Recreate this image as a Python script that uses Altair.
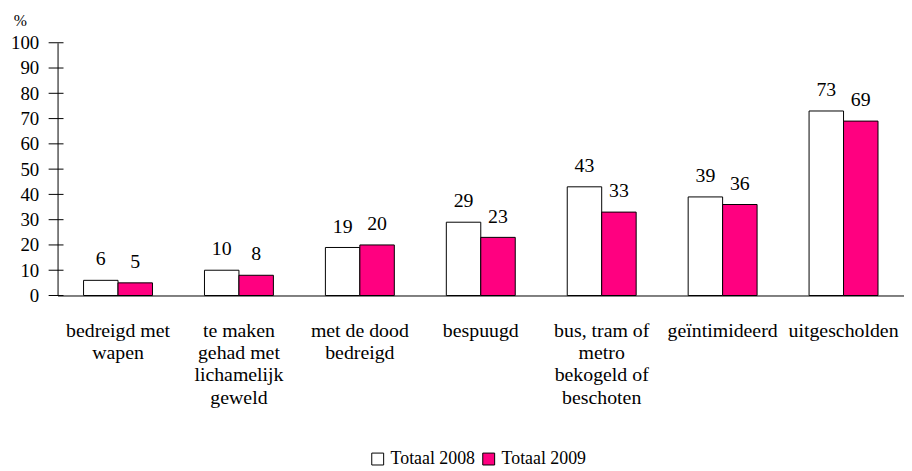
import altair as alt
import pandas as pd

categories = [
    "bedreigd met|wapen",
    "te maken|gehad met|lichamelijk|geweld",
    "met de dood|bedreigd",
    "bespuugd",
    "bus, tram of|metro|bekogeld of|beschoten",
    "geïntimideerd",
    "uitgescholden",
]
series = ["Totaal 2008", "Totaal 2009"]
v2008 = [6, 10, 19, 29, 43, 39, 73]
v2009 = [5, 8, 20, 23, 33, 36, 69]
y_ticks = list(range(0, 101, 10))

rows = []
for c, a, b in zip(categories, v2008, v2009):
    rows.append({"cat": c, "series": series[0], "value": a})
    rows.append({"cat": c, "series": series[1], "value": b})
df = pd.DataFrame(rows)

FONT = "Liberation Serif"

x_enc = alt.X(
    "cat:N",
    sort=categories,
    title=None,
    scale=alt.Scale(paddingInner=0.43, paddingOuter=0.215),
    axis=alt.Axis(
        labelExpr="split(datum.label, '|')",
        labelAngle=0,
        ticks=False,
        grid=False,
        labelPadding=25,
        labelFont=FONT,
        labelFontSize=20,
        labelColor="black",
        labelLineHeight=22.5,
        labelBaseline="top",
        domainColor="black",
        labelLimit=0,
        labelOverlap=False,
    ),
)
xoff = alt.XOffset("series:N", sort=series, scale=alt.Scale(paddingInner=0, paddingOuter=0))
y_enc = alt.Y(
    "value:Q",
    scale=alt.Scale(domain=[0, 100]),
    axis=alt.Axis(
        values=y_ticks,
        grid=False,
        ticks=False,
        labelOverlap=False,
        labelFlush=False,
        labelPadding=19,
        labelFont=FONT,
        labelFontSize=19,
        labelColor="black",
        domainColor="black",
        title="%",
        titleAngle=0,
        titleX=-38,
        titleY=-22,
        titleAlign="center",
        titleBaseline="middle",
        titleFont=FONT,
        titleFontSize=16,
        titleFontWeight="normal",
        titleColor="black",
    ),
)

bars = alt.Chart(df).mark_bar(stroke="black", strokeWidth=1).encode(
    x=x_enc,
    xOffset=xoff,
    y=y_enc,
    color=alt.Color(
        "series:N",
        sort=series,
        scale=alt.Scale(domain=series, range=["white", "#FF0080"]),
        legend=alt.Legend(
            title=None,
            orient="none",
            direction="horizontal",
            legendX=314,
            legendY=411,
            symbolType="square",
            symbolSize=144,
            symbolStrokeColor="black",
            symbolStrokeWidth=1,
            symbolOpacity=1,
            labelFont=FONT,
            labelFontSize=18,
            labelColor="black",
            columnPadding=4,
            labelOffset=4,
        ),
    ),
)

texts = alt.Chart(df).mark_text(
    baseline="alphabetic", dy=-15, font=FONT, fontSize=20, color="black"
).encode(x=x_enc, xOffset=xoff, y=y_enc, text="value:Q")

ticks = alt.Chart(pd.DataFrame({"value": y_ticks})).mark_rule(color="black", strokeWidth=1).encode(
    y=y_enc, x=alt.value(-9), x2=alt.value(6)
)

chart = alt.layer(bars, texts, ticks).properties(
    width=854,
    height=255,
    background="white",
    autosize=alt.AutoSizeParams(type="none"),
    padding={"left": 50, "top": 33, "right": 0, "bottom": 175},
).configure_view(stroke=None).configure_axis(grid=False)

chart.save("out.html", embed_options={"renderer": "svg", "actions": False})
